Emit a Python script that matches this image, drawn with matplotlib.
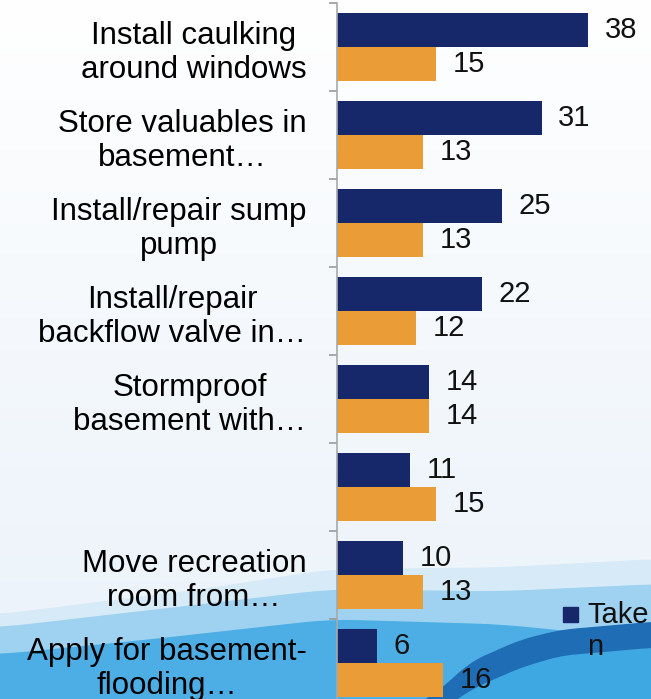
import matplotlib.pyplot as plt
import numpy as np
from matplotlib.patches import Rectangle
from matplotlib.colors import LinearSegmentedColormap

# survey results: measures taken vs. planned
categories = ["Install caulking\naround windows", "Store valuables in\nbasement…",
              "Install/repair sump\npump", "Install/repair\nbackflow valve in…",
              "Stormproof\nbasement with…", "", "Move recreation\nroom from…",
              "Apply for basement-\nflooding…"]
taken = [38, 31, 25, 22, 14, 11, 10, 6]
planned = [15, 13, 13, 12, 14, 15, 13, 16]

navy = '#16286a'
orange = '#ea9c37'

plt.rcParams['font.family'] = ['Liberation Sans', 'DejaVu Sans']

W, H = 651, 699
fig = plt.figure(figsize=(W / 100, H / 100), dpi=100)

# background: pale gradient with blue waves at the bottom
bg = fig.add_axes([0, 0, 1, 1], zorder=0)
bg.set_xlim(0, W)
bg.set_ylim(H, 0)
bg.axis('off')
grad = np.linspace(0, 1, 256).reshape(-1, 1)
cm = LinearSegmentedColormap.from_list('bgc', ['#ffffff', '#f4f8fc', '#eaf2fa'])
bg.imshow(grad, cmap=cm, extent=[0, W, H, 0], aspect='auto')

def wave(px, py, xs, k=61):
    # piecewise curve, smoothed with a moving average
    pad = k // 2
    xx = np.linspace(xs[0] - pad, xs[-1] + pad, len(xs) + 2 * pad)
    yy = np.interp(xx, px, py)
    return np.convolve(yy, np.ones(k) / k, mode='valid')[:len(xs)]

xs = np.linspace(0, W, 652)
bg.fill_between(xs, wave([0, 200, 330, 500, 651], [615, 590, 570, 568, 560], xs), H,
                color='#d6eaf7')
bg.fill_between(xs, wave([0, 200, 330, 500, 651], [628, 605, 590, 592, 585], xs), H,
                color='#9fd2f0')
bg.fill_between(xs, wave([0, 150, 330, 500, 651], [655, 640, 620, 625, 640], xs), H,
                color='#4caee4')
# darker band sweeping up to the right
xb = np.linspace(400, W, 252)
top = wave([400, 440, 470, 520, 560, 651], [715, 690, 662, 640, 630, 622], xb, k=31)
bot = wave([400, 440, 470, 520, 560, 651], [730, 712, 690, 668, 656, 648], xb, k=31)
bg.fill_between(xb, top, bot, color='#1f6db4')
bg.fill_between(xb, bot, H + 40, color='#3ea8e2')

ax = fig.add_axes([337 / W, 1 - 707 / H, (601 - 337) / W, 704 / H], zorder=1)
ax.patch.set_alpha(0)

y = np.arange(len(categories))
h = 0.39
b1 = ax.barh(y - h / 2, taken, height=h, color=navy)
b2 = ax.barh(y + h / 2, planned, height=h, color=orange)
ax.bar_label(b1, padding=12, fontsize=21, color='#111111')
ax.bar_label(b2, padding=12, fontsize=21, color='#111111')

ax.set_xlim(0, 40)
ax.set_ylim(len(categories) - 0.5, -0.5)
ax.set_xticks([])
ax.set_yticks(y, categories, fontsize=22.5, multialignment='center')
ax.set_yticks(np.arange(-0.5, len(categories)), minor=True)
ax.tick_params(axis='y', which='major', length=0, pad=22)
ax.tick_params(axis='y', which='minor', length=6, color='#9a9a9a', width=1.2)
for s in ['top', 'right', 'bottom']:
    ax.spines[s].set_visible(False)
ax.spines['left'].set_color('#a8a8a8')
ax.spines['left'].set_linewidth(1.2)

# legend entry, clipped by the frame edge
fig.patches.append(Rectangle((563 / W, 1 - 622 / H), 15 / W, 15 / H,
                             transform=fig.transFigure, color=navy, zorder=3))
fig.text(587 / W, 1 - 601 / H, "Take\nn", fontsize=21, va='top', ha='left',
         color='#111111', zorder=3)

fig.savefig('out.png', dpi=100)
